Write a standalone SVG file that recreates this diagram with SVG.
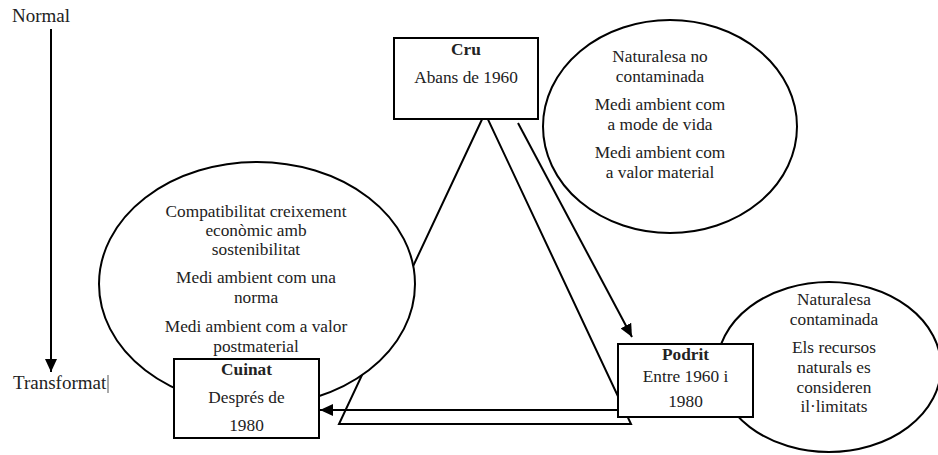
<svg xmlns="http://www.w3.org/2000/svg" width="938" height="455" viewBox="0 0 938 455">
<style>
  text { font-family: "Liberation Serif", "Times New Roman", serif; font-size: 17.3px; fill: #222; }
  .c { text-anchor: middle; }
  .b { font-weight: bold; }
  .axis { font-size: 19px; }
  .shape { fill: #fff; stroke: #000; stroke-width: 2; }
  .tri { fill: none; stroke: #000; stroke-width: 2; stroke-linejoin: miter; }
  .conn { fill: none; stroke: #000; stroke-width: 2; }
</style>
<defs>
  <marker id="ah" markerUnits="userSpaceOnUse" markerWidth="14" markerHeight="12" refX="13" refY="6" orient="auto">
    <path d="M0,0 L13,6 L0,12 z" fill="#000"/>
  </marker>
</defs>
<rect width="938" height="455" fill="#fff"/>

<g id="axis-labels">
  <text class="axis" x="12" y="22">Normal</text>
  <text class="axis" x="13" y="389">Transformat</text>
  <line x1="108" y1="375" x2="108" y2="393" stroke="#555" stroke-width="1"/>
</g>

<g id="triangle">
  <polygon class="tri" points="485,113 339,424 631,424"/>
</g>

<g id="ellipse-cru">
  <ellipse class="shape" cx="670" cy="126.5" rx="127" ry="106.5"/>
  <text class="c" x="660" y="62">Naturalesa no</text>
  <text class="c" x="660" y="82">contaminada</text>
  <text class="c" x="660" y="110">Medi ambient com</text>
  <text class="c" x="660" y="130">a mode de vida</text>
  <text class="c" x="660" y="158">Medi ambient com</text>
  <text class="c" x="660" y="178">a valor material</text>
</g>

<g id="ellipse-cuinat">
  <ellipse class="shape" cx="257" cy="284" rx="158" ry="122"/>
  <text class="c" x="256" y="217">Compatibilitat creixement</text>
  <text class="c" x="256" y="236">econòmic amb</text>
  <text class="c" x="256" y="255">sostenibilitat</text>
  <text class="c" x="256" y="283">Medi ambient com una</text>
  <text class="c" x="256" y="303">norma</text>
  <text class="c" x="256" y="332">Medi ambient com a valor</text>
  <text class="c" x="256" y="352">postmaterial</text>
</g>

<g id="ellipse-podrit">
  <ellipse class="shape" cx="829" cy="367" rx="112" ry="85"/>
  <text class="c" x="834" y="305">Naturalesa</text>
  <text class="c" x="834" y="325">contaminada</text>
  <text class="c" x="834" y="353">Els recursos</text>
  <text class="c" x="834" y="373">naturals es</text>
  <text class="c" x="834" y="393">consideren</text>
  <text class="c" x="834" y="412">il·limitats</text>
</g>

<g id="node-cru">
  <rect class="shape" x="394" y="38" width="144" height="81"/>
  <text class="c b" x="466" y="55">Cru</text>
  <text class="c" x="466" y="83">Abans de 1960</text>
</g>

<g id="node-cuinat">
  <rect class="shape" x="174" y="359" width="145" height="79"/>
  <text class="c b" x="246.5" y="375">Cuinat</text>
  <text class="c" x="246.5" y="403">Després de</text>
  <text class="c" x="246.5" y="431">1980</text>
</g>

<g id="node-podrit">
  <rect class="shape" x="618" y="344" width="135" height="73"/>
  <text class="c b" x="685.5" y="360">Podrit</text>
  <text class="c" x="685.5" y="382">Entre 1960 i</text>
  <text class="c" x="685.5" y="407">1980</text>
</g>

<g id="connectors">
  <line class="conn" x1="51" y1="29" x2="51" y2="372" marker-end="url(#ah)"/>
  <line class="conn" x1="518" y1="123" x2="632" y2="337" marker-end="url(#ah)"/>
  <line class="conn" x1="618" y1="410" x2="320" y2="410" marker-end="url(#ah)"/>
</g>
</svg>
